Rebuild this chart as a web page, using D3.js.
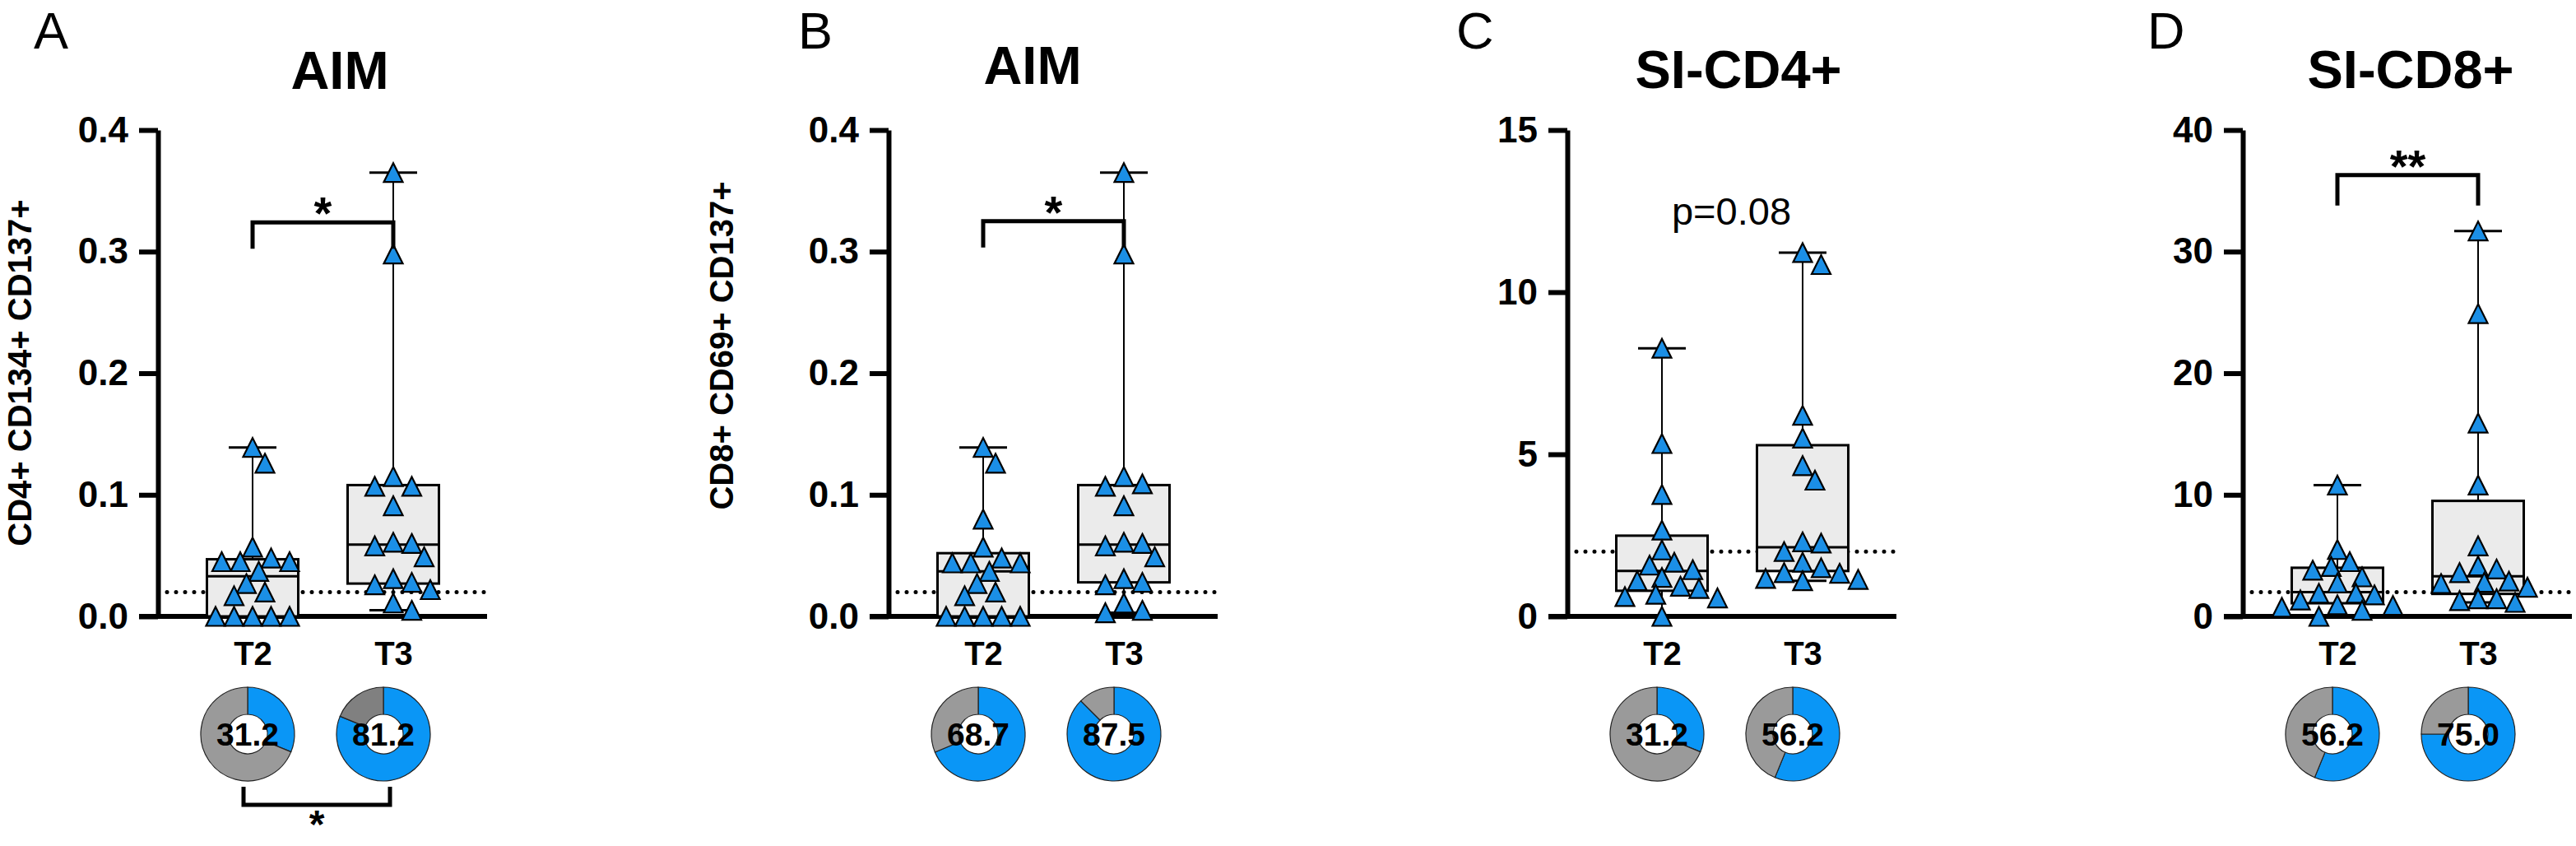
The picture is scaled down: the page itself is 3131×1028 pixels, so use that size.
<!DOCTYPE html>
<html>
<head>
<meta charset="utf-8">
<script src="https://cdn.jsdelivr.net/npm/d3@7/dist/d3.min.js"></script>
<style>
  body { margin: 0; background: #fff; }
  svg text { font-family: "Liberation Sans", Arial, Helvetica, sans-serif; }
</style>
</head>
<body>
<svg id="chart" width="3131" height="1028"></svg>
<script>
// ---------------- data ----------------
var panelLetters = ["A", "B", "C", "D"];
var panelTitles = ["AIM", "AIM", "SI-CD4+", "SI-CD8+"];
var yTitles = ["CD4+ CD134+ CD137+", "CD8+ CD69+ CD137+", "", ""];
var groups = ["T2", "T3"];
var yMax = [0.4, 0.4, 15, 40];
var yTickValues = [
  [0, 0.1, 0.2, 0.3, 0.4],
  [0, 0.1, 0.2, 0.3, 0.4],
  [0, 5, 10, 15],
  [0, 10, 20, 30, 40]
];
var yTickFormats = [".1f", ".1f", "d", "d"];
var cutoffs = [0.02, 0.02, 2, 2];
var sigLabels = ["*", "*", "p=0.08", "**"];
var responderSig = "*"; // only panel A donuts
var responderPct = [[31.2, 81.2], [68.7, 87.5], [31.2, 56.2], [56.2, 75.0]];

// individual values
var aimCD4_T2 = [0.139, 0.126, 0.057, 0.048, 0.045, 0.045, 0.045, 0.037, 0.027, 0.020, 0.017, 0, 0, 0, 0, 0];
var aimCD4_T3 = [0.365, 0.298, 0.115, 0.107, 0.107, 0.091, 0.061, 0.060, 0.058, 0.049, 0.031, 0.028, 0.026, 0.022, 0.011, 0.005];
var aimCD8_T2 = [0.139, 0.126, 0.080, 0.057, 0.048, 0.044, 0.044, 0.044, 0.037, 0.027, 0.020, 0.017, 0, 0, 0, 0, 0];
var aimCD8_T3 = [0.365, 0.298, 0.115, 0.109, 0.107, 0.091, 0.061, 0.060, 0.058, 0.049, 0.031, 0.028, 0.026, 0.011, 0.005, 0.003];
var siCD4_T2 = [8.27, 5.33, 3.76, 2.66, 2.05, 1.67, 1.58, 1.44, 1.20, 1.10, 0.93, 0.86, 0.68, 0.61, 0.57, 0];
var siCD4_T3 = [11.22, 10.85, 6.2, 5.5, 4.65, 4.2, 2.3, 2.26, 2.0, 1.67, 1.5, 1.35, 1.33, 1.17, 1.14, 1.10];
var siCD8_T2 = [10.8, 5.5, 4.5, 4.1, 3.8, 3.25, 2.75, 1.9, 1.9, 1.77, 1.35, 0.95, 0.9, 0.75, 0.5, 0];
var siCD8_T3 = [31.7, 24.9, 15.9, 10.8, 5.8, 4.15, 3.9, 3.6, 2.9, 2.8, 2.7, 2.4, 1.45, 1.45, 1.3, 1.15];

// box stats: [min, q1, median, q3, max]
var boxCD4_T2 = [0, 0, 0.033, 0.047, 0.139];
var boxCD4_T3 = [0.005, 0.027, 0.059, 0.108, 0.365];
var boxCD8_T2 = [0, 0, 0.037, 0.052, 0.139];
var boxCD8_T3 = [0.003, 0.028, 0.059, 0.108, 0.365];
var boxSI4_T2 = [0, 0.79, 1.40, 2.49, 8.27];
var boxSI4_T3 = [1.10, 1.40, 2.13, 5.28, 11.22];
var boxSI8_T2 = [0, 1.08, 2.0, 4.0, 10.8];
var boxSI8_T3 = [1.15, 1.85, 3.3, 9.5, 31.7];

var seriesValues = [[aimCD4_T2, aimCD4_T3], [aimCD8_T2, aimCD8_T3], [siCD4_T2, siCD4_T3], [siCD8_T2, siCD8_T3]];
var boxStats = [[boxCD4_T2, boxCD4_T3], [boxCD8_T2, boxCD8_T3], [boxSI4_T2, boxSI4_T3], [boxSI8_T2, boxSI8_T3]];

// ---------------- layout ----------------
var axisX = [192, 1080, 1905, 2726];
var letterX = [41, 970, 1770, 2610];
var titleX = [413, 1255, 2113, 2930];
var titleY = [108, 102, 107, 107];
var yTitleX = [38, 891];
var yTitleY = [453, 420];
var yTop = 158, yBottom = 749;
var donutY = 892;
// bracket bar (in data units) and how far the legs drop (px)
var brackets = [{bar: 0.324, drop: 32}, {bar: 0.325, drop: 32}, null, {bar: 36.3, drop: 37}];
var pTextValue = 12.08;

var blue = "#1b8fe6", pieBlue = "#0a96f6", pieGray = "#9a9a9a", pieDark = "#808080";
var boxFill = "#ebebeb";

var svg = d3.select("#chart");

// triangle centred on its bounding box
var triangleUp = {
  draw: function(context, size) {
    var s = Math.sqrt(size);
    context.moveTo(0, -s / 2);
    context.lineTo(s / 2, s / 2);
    context.lineTo(-s / 2, s / 2);
    context.closePath();
  }
};
var triangle = d3.symbol().type(triangleUp).size(23 * 23);

// simple deterministic swarm so the symbols don't sit on top of each other
function swarmOffsets(values, yScale, diameter, step) {
  var order = d3.range(values.length).sort(function(a, b) { return values[b] - values[a]; });
  var candidates = [0];
  for (var k = 1; k <= 10; k++) candidates.push(k * step, -k * step);
  var placed = [], offsets = [];
  order.forEach(function(i) {
    var py = yScale(values[i]);
    var dx = candidates.find(function(c) {
      return placed.every(function(q) {
        var ddx = c - q.dx, ddy = py - q.y;
        return ddx * ddx + ddy * ddy >= diameter * diameter;
      });
    });
    if (dx === undefined) dx = 0;
    offsets[i] = dx;
    placed.push({dx: dx, y: py});
  });
  return offsets;
}

var pie = d3.pie().sort(null).value(function(d) { return d; });
var arc = d3.arc().innerRadius(24).outerRadius(57);

panelLetters.forEach(function(letter, p) {
  var g = svg.append("g");
  var x0 = axisX[p];
  var y = d3.scaleLinear().domain([0, yMax[p]]).range([yBottom, yTop]);
  var x = d3.scalePoint().domain(groups).range([x0 + 115, x0 + 286]);
  var xd = d3.scalePoint().domain(groups).range([x0 + 109, x0 + 274]);

  // panel letter + title
  g.append("text").attr("x", letterX[p]).attr("y", 59)
    .attr("font-size", 63).attr("fill", "#000").text(letter);
  g.append("text").attr("x", titleX[p]).attr("y", titleY[p])
    .attr("text-anchor", "middle").attr("font-size", 65).attr("font-weight", "bold")
    .text(panelTitles[p]);

  if (yTitles[p]) {
    g.append("text")
      .attr("transform", "translate(" + yTitleX[p] + "," + yTitleY[p] + ") rotate(-90)")
      .attr("text-anchor", "middle").attr("font-size", 40).attr("font-weight", "bold")
      .text(yTitles[p]);
  }

  // cutoff line (behind the boxes)
  g.append("line")
    .attr("x1", x0 + 11).attr("x2", x0 + 400)
    .attr("y1", y(cutoffs[p])).attr("y2", y(cutoffs[p]))
    .attr("stroke", "#000").attr("stroke-width", 5)
    .attr("stroke-linecap", "round").attr("stroke-dasharray", "0 11");

  // axes
  var yAxis = d3.axisLeft(y).tickValues(yTickValues[p]).tickFormat(d3.format(yTickFormats[p]))
    .tickSize(23).tickPadding(13).tickSizeOuter(0);
  var ya = g.append("g").attr("transform", "translate(" + x0 + ",0)").call(yAxis);
  ya.select(".domain").attr("stroke-width", 6);
  ya.selectAll(".tick line").attr("stroke-width", 6);
  ya.selectAll(".tick text").attr("font-size", 44).attr("font-weight", "bold")
    .attr("font-family", null).attr("fill", "#000");
  ya.attr("font-family", null);

  g.append("line")
    .attr("x1", x0 - 23).attr("x2", x0 + 400)
    .attr("y1", y(0)).attr("y2", y(0))
    .attr("stroke", "#000").attr("stroke-width", 6);

  var xAxis = d3.axisBottom(x).tickSize(0).tickPadding(31);
  var xa = g.append("g").attr("transform", "translate(0," + y(0) + ")").call(xAxis);
  xa.select(".domain").remove();
  xa.attr("font-family", null);
  xa.selectAll(".tick text").attr("font-size", 40).attr("font-weight", "bold").attr("fill", "#000");

  // boxes and whiskers
  groups.forEach(function(grp, i) {
    var s = boxStats[p][i], cx = x(grp), bw = 111, cw = 58;
    var bg = g.append("g");
    bg.append("line").attr("x1", cx).attr("x2", cx).attr("y1", y(s[4])).attr("y2", y(s[3]))
      .attr("stroke", "#000").attr("stroke-width", 2);
    bg.append("line").attr("x1", cx).attr("x2", cx).attr("y1", y(s[1])).attr("y2", y(s[0]))
      .attr("stroke", "#000").attr("stroke-width", 2);
    [s[4], s[0]].forEach(function(v) {
      bg.append("line").attr("x1", cx - cw / 2).attr("x2", cx + cw / 2)
        .attr("y1", y(v)).attr("y2", y(v)).attr("stroke", "#000").attr("stroke-width", 3);
    });
    bg.append("rect").attr("x", cx - bw / 2).attr("width", bw)
      .attr("y", y(s[3])).attr("height", y(s[1]) - y(s[3]))
      .attr("fill", boxFill).attr("stroke", "#000").attr("stroke-width", 3);
    bg.append("line").attr("x1", cx - bw / 2).attr("x2", cx + bw / 2)
      .attr("y1", y(s[2])).attr("y2", y(s[2])).attr("stroke", "#000").attr("stroke-width", 3);
  });

  // individual points
  groups.forEach(function(grp, i) {
    var vals = seriesValues[p][i];
    var off = swarmOffsets(vals, y, 21, 7.5);
    g.append("g").selectAll("path").data(vals).enter().append("path")
      .attr("d", triangle)
      .attr("transform", function(d, j) { return "translate(" + (x(grp) + off[j]) + "," + y(d) + ")"; })
      .attr("fill", blue).attr("stroke", "#000").attr("stroke-width", 2.2)
      .attr("stroke-linejoin", "miter");
  });

  // significance annotation
  var b = brackets[p];
  if (b) {
    var by = y(b.bar), x1 = x(groups[0]), x2 = x(groups[1]);
    g.append("path")
      .attr("d", "M" + x1 + "," + (by + b.drop) + "V" + by + "H" + x2 + "V" + (by + b.drop))
      .attr("fill", "none").attr("stroke", "#000").attr("stroke-width", 5);
    g.append("text").attr("x", (x1 + x2) / 2).attr("y", by - 24 + 32)
      .attr("text-anchor", "middle").attr("font-size", 56).attr("font-weight", "bold")
      .text(sigLabels[p]);
  } else {
    g.append("text").attr("x", (x(groups[0]) + x(groups[1])) / 2 - 1).attr("y", y(pTextValue))
      .attr("text-anchor", "middle").attr("font-size", 47)
      .text(sigLabels[p]);
  }

  // responder donuts
  groups.forEach(function(grp, i) {
    var pct = responderPct[p][i];
    var dg = g.append("g").attr("transform", "translate(" + xd(grp) + "," + donutY + ")");
    var gray = (p === 0 && i === 1) ? pieDark : pieGray;
    dg.selectAll("path").data(pie([pct, 100 - pct])).enter().append("path")
      .attr("d", arc)
      .attr("fill", function(d, k) { return k === 0 ? pieBlue : gray; })
      .attr("stroke", "#222").attr("stroke-width", 1.2);
    dg.append("text").attr("y", 14).attr("text-anchor", "middle")
      .attr("font-size", 39).attr("font-weight", "bold")
      .text(d3.format(".1f")(pct));
  });

  // comparison of responder proportions (panel A only)
  if (p === 0) {
    var l1 = xd(groups[0]) - 5, l2 = xd(groups[1]) + 8;
    g.append("path")
      .attr("d", "M" + l1 + "," + (donutY + 64) + "V" + (donutY + 86) + "H" + l2 + "V" + (donutY + 64))
      .attr("fill", "none").attr("stroke", "#000").attr("stroke-width", 5);
    g.append("text").attr("x", (l1 + l2) / 2).attr("y", 1018)
      .attr("text-anchor", "middle").attr("font-size", 48).attr("font-weight", "bold")
      .text(responderSig);
  }
});
</script>
</body>
</html>
